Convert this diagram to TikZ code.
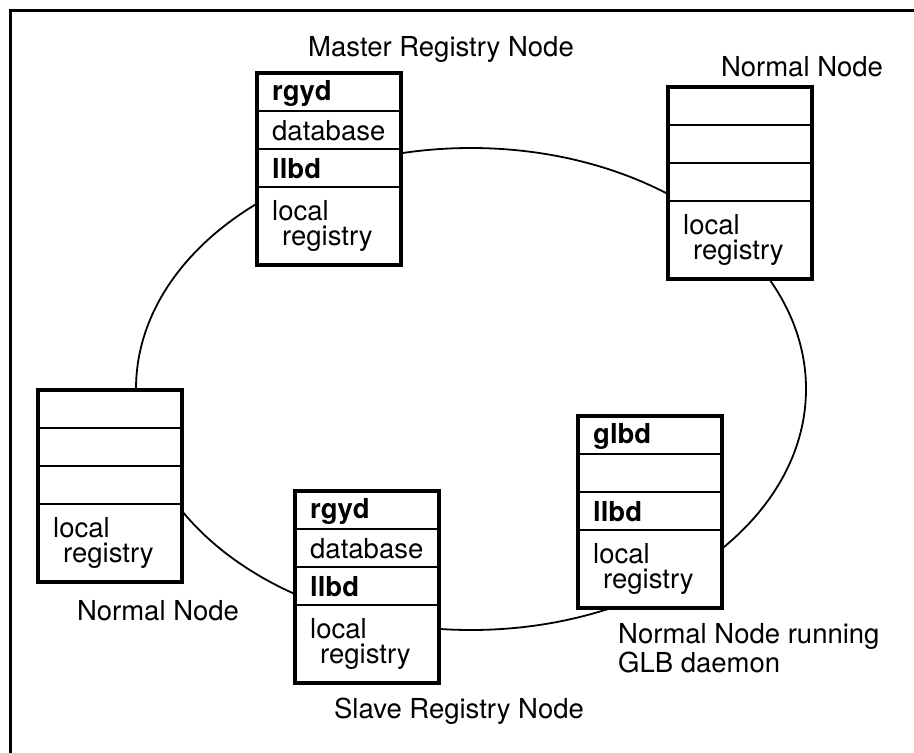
\documentclass[tikz,border=0pt]{standalone}
\usepackage{fontspec}
\setmainfont{TeX Gyre Heros}
\usetikzlibrary{shapes.geometric}

\tikzset{
  frameline/.style={line width=3pt},
  ringline/.style={draw, ellipse, line width=1.8pt, minimum width=670pt,
    minimum height=482pt, inner sep=0pt, outer sep=0pt},
  hostbox/.style={draw, fill=white, line width=4pt, minimum width=144pt,
    minimum height=192pt, inner sep=0pt, outer sep=0pt, anchor=north west},
  rowline/.style={line width=1.8pt},
  celltext/.style={anchor=west, inner sep=0pt, font=\fontsize{27.5}{31}\selectfont},
  caption/.style={inner sep=0pt, font=\fontsize{27.5}{29.5}\selectfont},
}

% host box: name, left x, top y, texts of the three upper cells
\newcommand\hostnode[6]{%
  \node[hostbox] (#1) at (#2,#3) {};
  \foreach \d in {38,76,114}
    \draw[rowline] ([yshift=-\d pt]#1.north west) -- ([yshift=-\d pt]#1.north east);
  \node[celltext] (#1-a) at ([xshift=15pt,yshift=-20pt]#1.north west) {#4};
  \node[celltext] (#1-b) at ([xshift=15pt,yshift=-58pt]#1.north west) {#5};
  \node[celltext] (#1-c) at ([xshift=15pt,yshift=-96pt]#1.north west) {#6};
  \node[celltext] (#1-d) at ([xshift=15pt,yshift=-138pt]#1.north west) {local};
  \node[celltext] (#1-e) at ([xshift=25pt,yshift=-166pt]#1.north west) {registry};
}

\begin{document}
\begin{tikzpicture}[x=1pt,y=-1pt]
  \useasboundingbox (0,0) rectangle (914,753);

  % outer frame
  \draw[frameline] (10.5,753) -- (10.5,10) -- (914,10);

  % the ring joining all hosts
  \node[ringline] (ring) at (471,389) {};

  % hosts
  \hostnode{master}{257}{73}{\bfseries rgyd}{database}{\bfseries llbd}
  \hostnode{normalA}{668}{87}{}{}{}
  \hostnode{normalB}{38}{390}{}{}{}
  \hostnode{slave}{295}{491}{\bfseries rgyd}{database}{\bfseries llbd}
  \hostnode{glb}{578}{416}{\bfseries glbd}{}{\bfseries llbd}

  % captions
  \node[caption] (masterlabel) at (441,49) {Master Registry Node};
  \node[caption] (normalAlabel) at (802,67) {Normal Node};
  \node[caption] (normalBlabel) at (158,611) {Normal Node};
  \node[caption] (slavelabel) at (459,711) {Slave Registry Node};
  \node[caption, anchor=west, align=left] (glblabel) at (618,648)
    {Normal Node running\\GLB daemon};
\end{tikzpicture}
\end{document}
